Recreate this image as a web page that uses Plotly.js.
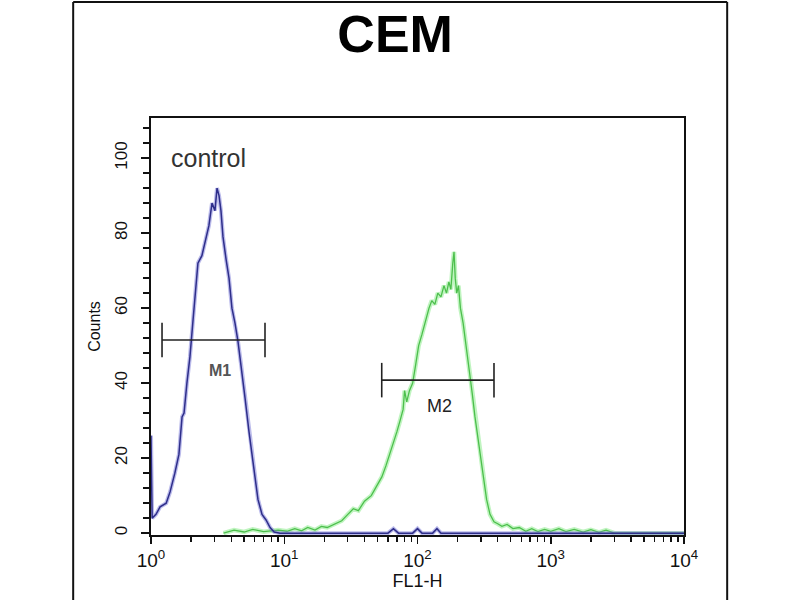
<!DOCTYPE html>
<html>
<head>
<meta charset="utf-8">
<script src="https://cdn.plot.ly/plotly-3.0.1.min.js"></script>
<style>
  html, body { margin: 0; padding: 0; background: #fff; }
  #chart { width: 800px; height: 600px; }
</style>
</head>
<body>
<div id="chart"></div>
<script>
// control histogram (blue)
var controlX = [1.00, 1.02, 1.09, 1.17, 1.30, 1.39, 1.51, 1.62, 1.71, 1.77, 1.86, 1.96,
    2.07, 2.18, 2.25, 2.41, 2.59, 2.72, 2.87, 3.02, 3.13, 3.24, 3.35, 3.47, 3.66,
    3.85, 4.05, 4.27, 4.50, 4.74, 5.08, 5.44, 5.73, 6.03, 6.35, 6.81, 7.30, 7.83,
    8.40, 9.3, 60, 66, 72, 92, 100, 108, 130, 140, 150, 10000];
var controlY = [26, 4, 5, 7, 8, 11, 16, 21, 31, 32, 40, 47,
    57, 66, 72, 74, 79, 82, 88, 86, 92, 90, 86, 79, 73,
    68, 60, 56, 51, 45, 36, 27, 21, 15, 9, 5, 3.5, 1.5,
    0.3, 0, 0, 1.2, 0, 0, 1.2, 0, 0, 1.2, 0, 0];

// stained sample histogram (green)
var sampleX = [3.5, 4.2, 5, 5.8, 7, 9, 10.5, 12, 13.5, 15, 17, 19, 21, 24, 27, 30,
    33, 36, 40, 45, 50, 54, 58, 62, 66, 70, 74, 78, 80, 83, 87, 92, 97, 102,
    108, 115, 122, 128, 135, 142, 150, 158, 165, 172, 178, 184, 188, 192, 197,
    203, 210, 220, 232, 245, 258, 270, 285, 300, 315, 330, 350, 375, 400, 430,
    470, 520, 580, 650, 720, 800, 900, 1000, 1150, 1300, 1500, 1750, 2000,
    2300, 2600, 3000, 10000];
var sampleY = [0, 0.8, 0.3, 1.0, 0.4, 0.8, 0.5, 1.2, 0.6, 1.5, 0.8, 1.8, 1.5, 2.5, 3.3, 5,
    6.5, 6, 8.5, 10, 13, 15, 18, 21, 24, 27, 30, 33, 38, 35, 38, 40, 45, 50,
    53, 57, 60, 62, 61, 64, 63, 66, 64, 67, 65, 72, 75, 68, 64,
    66, 60, 56, 50, 44, 37, 31, 25, 19, 14, 9, 5, 3, 2.5, 1.8,
    2.3, 1.2, 1.5, 0.5, 1.2, 0.4, 1, 0.5, 1.2, 0.4, 1, 0.3, 0.9,
    0.2, 0.8, 0, 0];

// marker gates M1 / M2
var m1Range = [1.21, 7.17], m1Level = 51.5;
var m2Range = [53.9, 375], m2Level = 40.8;
var capHalf = 4.6;

var decadeVals = [1, 10, 100, 1000, 10000];
var decadeText = ['10<sup>0</sup>', '10<sup>1</sup>', '10<sup>2</sup>', '10<sup>3</sup>', '10<sup>4</sup>'];

var minorX = [];
for (var d = 1; d < 10000; d *= 10) {
    for (var k = 2; k <= 9; k++) minorX.push(k * d);
}

function gate(r, lvl) {
    return {
        x: [r[0], r[1], null, r[0], r[0], null, r[1], r[1]],
        y: [lvl, lvl, null, lvl - capHalf, lvl + capHalf, null, lvl - capHalf, lvl + capHalf]
    };
}
var g1 = gate(m1Range, m1Level);
var g2 = gate(m2Range, m2Level);

var traces = [
    {x: sampleX, y: sampleY, mode: 'lines', line: {color: 'rgba(140,235,140,0.55)', width: 4.5}, hoverinfo: 'skip'},
    {x: sampleX, y: sampleY, mode: 'lines', line: {color: '#4cbf4c', width: 1.3}},
    {x: controlX, y: controlY, mode: 'lines', line: {color: 'rgba(120,120,215,0.5)', width: 4}, hoverinfo: 'skip'},
    {x: controlX, y: controlY, mode: 'lines', line: {color: '#2e2e8a', width: 1.5}},
    {x: g1.x, y: g1.y, mode: 'lines', line: {color: '#222', width: 1.6}},
    {x: g2.x, y: g2.y, mode: 'lines', line: {color: '#222', width: 1.6}}
];

var fontFam = '"Liberation Sans", Arial, sans-serif';

var layout = {
    width: 800, height: 600,
    showlegend: false,
    paper_bgcolor: '#ffffff',
    plot_bgcolor: '#ffffff',
    margin: {l: 151, r: 116, t: 118, b: 65, pad: 0},
    title: {
        text: '<b>CEM</b>',
        font: {family: fontFam, size: 52, color: '#000'},
        xref: 'paper', x: 0.458, xanchor: 'center',
        yref: 'container', y: 0.943, yanchor: 'middle'
    },
    xaxis: {
        type: 'log', range: [0, 4],
        tickmode: 'array', tickvals: decadeVals, ticktext: decadeText,
        ticks: 'outside', ticklen: 7, tickwidth: 1.5, tickcolor: '#111',
        minor: {tickmode: 'array', tickvals: minorX, ticks: 'outside', ticklen: 5, tickwidth: 1.3, tickcolor: '#111'},
        showline: true, mirror: true, linecolor: '#111', linewidth: 1.8,
        showgrid: false, zeroline: false,
        tickfont: {family: fontFam, size: 19, color: '#111'},
        title: {text: 'FL1-H', font: {family: fontFam, size: 18, color: '#111'}, standoff: 5}
    },
    yaxis: {
        range: [-0.5, 110.7],
        tickmode: 'linear', tick0: 0, dtick: 20,
        ticks: 'outside', ticklen: 8, tickwidth: 1.5, tickcolor: '#111',
        minor: {dtick: 4, ticks: 'outside', ticklen: 6, tickwidth: 1.3, tickcolor: '#111'},
        tickangle: -90, ticklabelstandoff: 7,
        showline: true, mirror: true, linecolor: '#111', linewidth: 1.8,
        showgrid: false, zeroline: false,
        tickfont: {family: fontFam, size: 17, color: '#111'},
        title: {text: 'Counts', font: {family: fontFam, size: 16, color: '#111'}, standoff: 8}
    },
    annotations: [
        {text: 'control', x: Math.log10(2.72), y: 100.1, xref: 'x', yref: 'y', showarrow: false,
         font: {family: fontFam, size: 25, color: '#333'}},
        {text: '<b>M1</b>', x: Math.log10(3.3), y: 43.5, xref: 'x', yref: 'y', showarrow: false,
         font: {family: fontFam, size: 16, color: '#555'}},
        {text: 'M2', x: Math.log10(147), y: 33.9, xref: 'x', yref: 'y', showarrow: false,
         font: {family: fontFam, size: 18, color: '#222'}}
    ],
    shapes: [
        {type: 'line', xref: 'paper', yref: 'paper', x0: -0.146, x1: -0.146, y0: -0.25, y1: 1.278, line: {color: '#111', width: 2}},
        {type: 'line', xref: 'paper', yref: 'paper', x0: 1.081, x1: 1.081, y0: -0.25, y1: 1.278, line: {color: '#111', width: 2}},
        {type: 'line', xref: 'paper', yref: 'paper', x0: -0.146, x1: 1.081, y0: 1.278, y1: 1.278, line: {color: '#111', width: 2}}
    ]
};

Plotly.newPlot('chart', traces, layout, {displayModeBar: false, staticPlot: true});
</script>
</body>
</html>
